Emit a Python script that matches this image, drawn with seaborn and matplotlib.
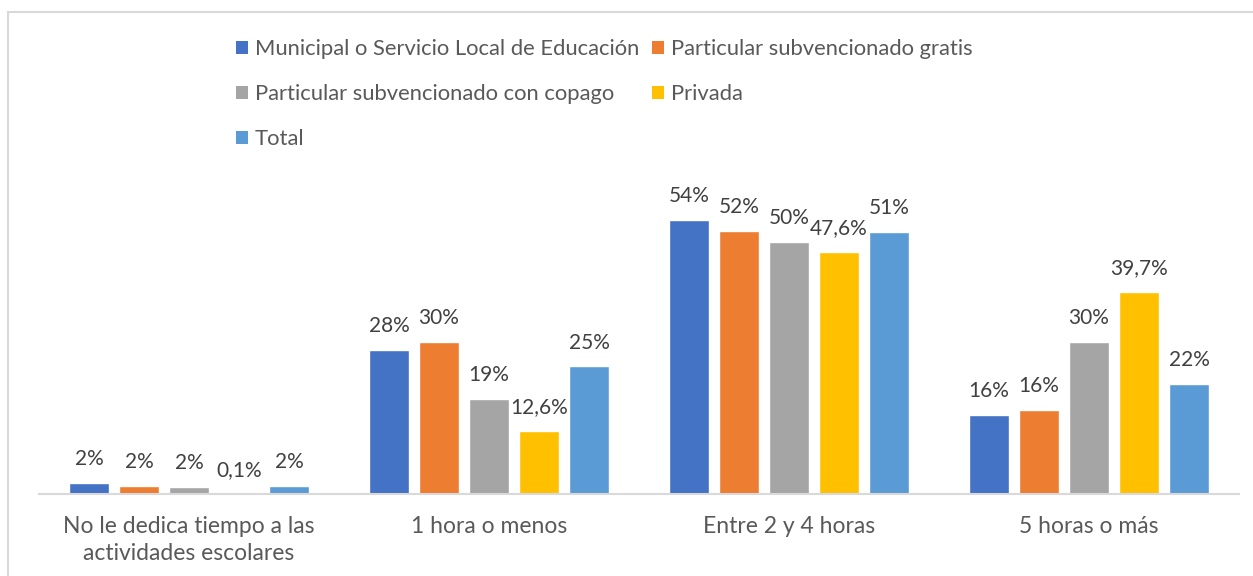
import matplotlib
matplotlib.use("Agg")
import matplotlib.pyplot as plt
import seaborn as sns
import pandas as pd
from matplotlib.patches import Rectangle, Patch

categories = ["No le dedica tiempo a las\nactividades escolares", "1 hora o menos",
              "Entre 2 y 4 horas", "5 horas o más"]
series = ["Municipal o Servicio Local de Educación", "Particular subvencionado gratis",
          "Particular subvencionado con copago", "Privada", "Total"]
municipal = [2.2, 28.3, 54.0, 15.5]
subv_gratis = [1.6, 30.0, 51.7, 16.5]
subv_copago = [1.4, 18.7, 49.5, 30.0]
privada = [0.1, 12.4, 47.6, 39.7]
total = [1.6, 25.1, 51.5, 21.6]
labels_municipal = ["2%", "28%", "54%", "16%"]
labels_gratis = ["2%", "30%", "52%", "16%"]
labels_copago = ["2%", "19%", "50%", "30%"]
labels_privada = ["0,1%", "12,6%", "47,6%", "39,7%"]
labels_total = ["2%", "25%", "51%", "22%"]
colors = ["#4472C4", "#ED7D31", "#A5A5A5", "#FFC000", "#5B9BD5"]

values = [municipal, subv_gratis, subv_copago, privada, total]
labels = [labels_municipal, labels_gratis, labels_copago, labels_privada, labels_total]

rows = []
for s, vals in zip(series, values):
    for c, v in zip(categories, vals):
        rows.append({"categoria": c, "serie": s, "valor": v})
df = pd.DataFrame(rows)

sns.set_style("white")
plt.rcParams["font.family"] = ["Lato", "DejaVu Sans"]

fig = plt.figure(figsize=(12.53, 5.76), dpi=100)
ax = fig.add_axes([39 / 1253, 1 - 494 / 576, 1200 / 1253, 305 / 576])
sns.barplot(data=df, x="categoria", y="valor", hue="serie", order=categories,
            hue_order=series, palette=colors, saturation=1, width=250 / 300,
            gap=0.2, errorbar=None, legend=False, ax=ax)

for cont, labs in zip(ax.containers, labels):
    ax.bar_label(cont, labels=labs, padding=10, fontsize=15, color="#404040")

ax.set_xlim(-0.5, 3.5)
ax.set_ylim(0, 60)
ax.set_xlabel("")
ax.set_ylabel("")
ax.set_yticks([])
for side in ["top", "left", "right"]:
    ax.spines[side].set_visible(False)
ax.spines["bottom"].set_color("#d9d9d9")
ax.spines["bottom"].set_linewidth(1.5)
ax.tick_params(axis="x", length=0, pad=16, labelsize=16.5, labelcolor="#595959")
for t in ax.get_xticklabels():
    t.set_linespacing(1.35)
    t.set_verticalalignment("top")

# legend: column-wise ordering to match row layout of reference
order = [0, 2, 4, 1, 3]
handles = [Patch(facecolor=colors[i], edgecolor="none") for i in order]
leg_labels = [series[i] for i in order]
fig.legend(handles, leg_labels, ncol=2, loc="upper left",
           bbox_to_anchor=(236 / 1253, 1 - 39 / 576), frameon=False,
           fontsize=15.8, labelcolor="#595959", handlelength=0.55, handleheight=0.55,
           handletextpad=0.3, columnspacing=0.6, labelspacing=1.15,
           borderpad=0, borderaxespad=0)

fig.patches.append(Rectangle((8 / 1253, -0.2), 2.0, 1.2 - 12 / 576,
                             transform=fig.transFigure, fill=False,
                             edgecolor="#d9d9d9", linewidth=1.5))

fig.savefig("out.png", dpi=100)
